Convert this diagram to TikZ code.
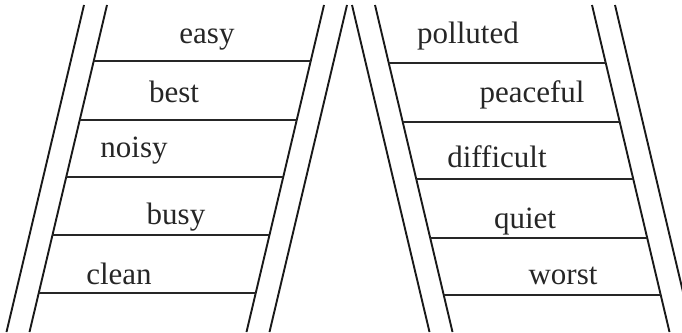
\documentclass[tikz,border=0pt]{standalone}
\usepackage{fontspec}
\setmainfont{Liberation Serif}
\usetikzlibrary{calc}
\begin{document}
\begin{tikzpicture}[x=1pt,y=-1pt,
  rail/.style={line width=1.9pt,black!90},
  rung/.style={line width=1.5pt,black!85},
  word/.style={anchor=base,inner sep=0pt,font=\fontsize{31}{31}\selectfont,text=black!85}]
\useasboundingbox (0,0) rectangle (682,332);
\begin{scope}
\clip (0,0) rectangle (682,332);
% left ladder rails
\coordinate (LAt) at (84,5);   \coordinate (LAb) at (6.5,332);
\coordinate (LBt) at (107,5);  \coordinate (LBb) at (29.5,332);
\coordinate (LCt) at (324,5);  \coordinate (LCb) at (246.5,332);
\coordinate (LDt) at (347,5);  \coordinate (LDb) at (269.5,332);
% right ladder rails
\coordinate (RAt) at (352,5);  \coordinate (RAb) at (429.5,332);
\coordinate (RBt) at (375,5);  \coordinate (RBb) at (452.5,332);
\coordinate (RCt) at (592,5);  \coordinate (RCb) at (669.5,332);
\coordinate (RDt) at (615,5);  \coordinate (RDb) at (692.5,332);
\foreach \r in {LA,LB,LC,LD,RA,RB,RC,RD}
  \draw[rail] (\r t) -- (\r b);
% rungs
\foreach \y in {61,120,177,235,293}
  \draw[rung] ($(LBt)!{(\y-5)/327}!(LBb)$) -- ($(LCt)!{(\y-5)/327}!(LCb)$);
\foreach \y in {63,122,179,238,295}
  \draw[rung] ($(RBt)!{(\y-5)/327}!(RBb)$) -- ($(RCt)!{(\y-5)/327}!(RCb)$);
\end{scope}
% words
\node[word] (w1) at (207,43) {easy};
\node[word] (w2) at (174,102) {best};
\node[word] (w3) at (134,157) {noisy};
\node[word] (w4) at (176,224) {busy};
\node[word] (w5) at (119,284) {clean};
\node[word] (w6) at (468,43) {polluted};
\node[word] (w7) at (532,102) {peaceful};
\node[word] (w8) at (497,167) {difficult};
\node[word] (w9) at (525,228) {quiet};
\node[word] (w10) at (563,284) {worst};
\end{tikzpicture}
\end{document}
